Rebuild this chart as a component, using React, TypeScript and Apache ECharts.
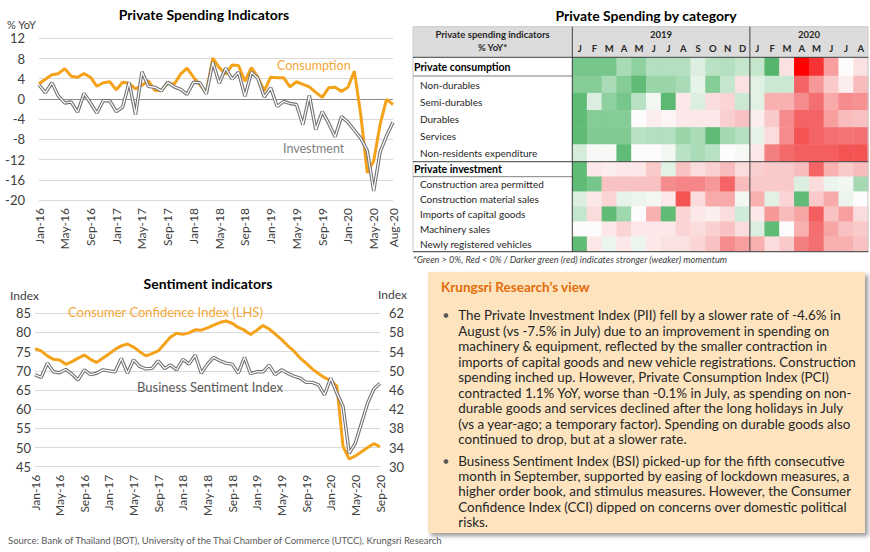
import React, { useEffect, useRef } from "react";
import * as echarts from "echarts";

// ---------- DATA ----------
const MONTHS = [
  "Jan-16","Feb-16","Mar-16","Apr-16","May-16","Jun-16","Jul-16","Aug-16","Sep-16","Oct-16","Nov-16","Dec-16",
  "Jan-17","Feb-17","Mar-17","Apr-17","May-17","Jun-17","Jul-17","Aug-17","Sep-17","Oct-17","Nov-17","Dec-17",
  "Jan-18","Feb-18","Mar-18","Apr-18","May-18","Jun-18","Jul-18","Aug-18","Sep-18","Oct-18","Nov-18","Dec-18",
  "Jan-19","Feb-19","Mar-19","Apr-19","May-19","Jun-19","Jul-19","Aug-19","Sep-19","Oct-19","Nov-19","Dec-19",
  "Jan-20","Feb-20","Mar-20","Apr-20","May-20","Jun-20","Jul-20","Aug-20","Sep-20",
];
const spendMonths = MONTHS.slice(0, 56);

const consumption = [
  3.0, 3.9, 4.8, 5.0, 6.0, 4.5, 4.3, 5.0, 4.3, 2.5, 3.2, 3.4,
  1.8, 3.3, 3.1, 2.0, 2.7, 3.6, 1.7, 1.6, 3.2, 2.9, 4.9, 6.1,
  4.3, 2.8, 1.2, 8.1, 6.2, 4.9, 6.7, 6.6, 3.5, 6.2, 4.3, 1.6,
  4.3, 4.2, 4.2, 2.4, 3.4, 2.9, 2.4, 1.3, 0.3, 2.2, 2.3, 1.5,
  2.3, 5.5, -3.2, -14.6, -12.3, -5.0, -0.1, -1.1,
];
const investment = [
  2.8, 1.2, 3.2, 0.6, -0.8, -0.6, -2.6, 1.1, -0.8, -2.8, -0.3, -0.4,
  -2.5, -1.6, 3.3, -3.1, 5.4, 2.5, 2.3, 1.6, 3.3, 2.4, 1.9, 0.9,
  3.3, 3.2, 1.0, 7.3, 3.1, 6.1, 3.9, 5.3, 0.5, 5.3, 4.1, 0.4,
  2.2, -1.5, -0.5, -0.9, -1.1, -5.1, 0.7, -6.1, -2.5, -4.8, -7.5, -3.5,
  -4.6, -6.2, -7.8, -10.2, -18.2, -10.5, -7.3, -4.6,
];

const cci = [
  75.8, 75.2, 73.9, 73.0, 72.8, 71.7, 72.4, 73.3, 74.1, 73.0, 72.2, 73.3,
  74.4, 75.6, 76.5, 77.0, 76.2, 75.0, 73.9, 74.5, 75.2, 77.0, 78.8, 79.8,
  79.5, 79.9, 80.7, 80.6, 81.2, 81.9, 82.6, 83.0, 82.4, 81.3, 80.6, 79.5,
  80.6, 81.8, 80.9, 79.6, 78.2, 76.6, 75.2, 73.4, 72.0, 70.5, 69.3, 68.2,
  67.5, 66.0, 50.3, 47.0, 47.8, 48.9, 50.0, 51.0, 50.2,
];
const bsi = [
  49.2, 48.6, 51.6, 49.8, 49.6, 50.3, 49.3, 48.1, 50.2, 49.2, 49.5, 50.2,
  50.0, 49.8, 52.6, 49.5, 52.3, 50.9, 50.4, 50.5, 52.1, 50.5, 51.2, 50.2,
  52.4, 51.4, 53.3, 49.5, 51.4, 52.8, 52.1, 51.6, 51.4, 49.5, 52.8, 49.4,
  49.8, 49.8, 51.2, 49.2, 50.2, 49.5, 48.9, 48.5, 47.6, 47.6, 47.1, 45.0,
  48.5, 45.3, 42.6, 32.8, 34.9, 39.1, 43.3, 46.2, 47.4,
];

const heatColumns = [
  "Jan-19","Feb-19","Mar-19","Apr-19","May-19","Jun-19","Jul-19","Aug-19","Sep-19","Oct-19","Nov-19","Dec-19",
  "Jan-20","Feb-20","Mar-20","Apr-20","May-20","Jun-20","Jul-20","Aug-20",
];
const heatYears = ["2019", "2020"];
const heatYearCols = [12, 8];

const rowsPC = ["Private consumption"];
const rowsCons = ["Non-durables", "Semi-durables", "Durables", "Services", "Non-residents expenditure"];
const rowsInv = [
  "Private investment", "Construction area permitted", "Construction material sales",
  "Imports of capital goods", "Machinery sales", "Newly registered vehicles",
];

// momentum score: >0 green, <0 red, magnitude = strength
const scorePC = [2.5, 2.5, 2.5, 1.5, 2.0, 1.3, 1.3, 1.3, 0.6, 1.2, 1.3, 1.0, 1.0, 3.5, -0.4, -4.0, -3.3, -1.5, 0.0, -0.4];
const scoreND = [2.2, 2.2, 1.5, 2.2, 3.0, 1.8, 1.8, 1.5, 0.4, 2.2, 1.0, -0.4, 0.5, 0.9, 0.9, -2.5, -1.6, -0.8, -0.2, -1.0];
const scoreSD = [3.0, 0.6, 2.0, 2.5, 1.2, 0.2, 3.2, -0.3, 0.6, -0.5, -0.6, 0.9, 0.5, -1.2, -1.2, -1.8, -2.3, -1.3, -1.8, -1.7];
const scoreDU = [3.0, 2.2, 2.2, 2.2, 0.0, -0.2, -0.1, -0.3, -0.3, -0.3, -0.7, -0.9, -0.2, -0.8, -1.8, -2.5, -2.5, -1.5, -1.0, -0.9];
const scoreSV = [3.0, 2.3, 2.3, 2.3, 1.2, 1.3, 1.3, 1.8, 1.5, 3.0, 1.6, 1.3, 0.4, -0.5, -1.8, -2.8, -2.5, -2.3, -2.2, -2.3];
const scoreNR = [0.7, 0.1, 0.1, 3.0, 0.0, 0.0, 0.2, 1.2, 1.5, 1.2, 0.0, 0.1, -0.3, -2.0, -2.4, -2.6, -2.6, -2.6, -2.8, -2.8];
const scorePI = [3.0, -0.3, -0.2, -0.3, -0.3, -0.8, 0.5, -0.9, -0.5, -0.7, -1.0, -0.5, -0.7, -0.8, -0.8, -1.0, -2.5, -1.2, -0.8, -1.0];
const scoreCA = [3.0, 2.5, -0.9, -0.9, -0.9, -0.9, -1.8, -1.9, -1.9, -1.6, -2.5, -1.0, -0.8, -0.8, -0.8, 0.6, -0.5, 0.3, 0.2, 1.6];
const scoreCM = [0.6, -0.3, -0.6, 0.4, 0.3, 0.2, -0.3, -2.8, -0.5, -1.3, -1.3, 0.2, -1.2, 0.5, -0.6, 3.0, -0.8, -1.3, 0.3, 0.0];
const scoreIC = [1.0, -0.5, 3.0, 1.7, 0.0, -1.2, 3.0, -0.6, -0.3, -0.2, -0.5, 0.8, -0.3, -1.6, -1.0, -1.4, -2.6, -0.9, -1.5, -0.5];
const scoreMS = [0.0, 0.0, -0.3, -0.6, -0.3, -0.3, -0.3, -0.6, -0.5, -0.7, -0.9, -0.5, 0.6, 3.0, 0.0, -1.2, -2.3, -1.4, -0.9, -0.8];
const scoreNV = [3.0, -0.3, 0.3, -0.3, 0.3, -0.3, -0.4, -0.4, -0.6, -0.9, -1.8, -1.5, -1.2, -0.5, -0.8, -2.0, -2.3, -1.2, -1.2, -0.9];

const viewBullet1 = [
  "The Private Investment Index (PII) fell by a slower rate of -4.6% in",
  "August (vs -7.5% in July) due to an improvement in spending on",
  "machinery & equipment, reflected by the smaller contraction in",
  "imports of capital goods and new vehicle registrations. Construction",
  "spending inched up. However, Private Consumption Index (PCI)",
  "contracted 1.1% YoY, worse than -0.1% in July, as spending on non-",
  "durable goods and services declined after the long holidays in July",
  "(vs a year-ago; a temporary factor). Spending on durable goods also",
  "continued to drop, but at a slower rate.",
];
const viewBullet2 = [
  "Business Sentiment Index (BSI) picked-up for the fifth consecutive",
  "month in September, supported by easing of lockdown measures, a",
  "higher order book, and stimulus measures. However, the Consumer",
  "Confidence Index (CCI) dipped on concerns over domestic political",
  "risks.",
];

// ---------- LAYOUT ----------
const FONT = "Lato";
const ORANGE = "#f5a21b";
const HX = 572.3;
const HW = 296;
const CELL = HW / 20;
const BODY_X = 458.3;
const BODY_W = 392;

const heat = (rows: number[][]) => rows.flatMap((r, y) => r.map((v, x) => [x, y, v]));

function fitBodySize(): number {
  try {
    const ctx = document.createElement("canvas").getContext("2d");
    if (!ctx) return 13;
    ctx.font = `10px ${FONT}`;
    const lines = [...viewBullet1.slice(0, -1), ...viewBullet2.slice(0, -1)];
    const widths = lines.map((l) => ctx.measureText(l).width).sort((a, b) => b - a);
    const ref = widths[Math.floor(widths.length / 3)];
    const s = (10 * BODY_W) / ref;
    return Math.max(11, Math.min(14.5, s));
  } catch (e) {
    return 13;
  }
}

const txt = (text: string, x: number, y: number, o: any = {}) => ({
  type: "text",
  x,
  y,
  z: 100,
  style: {
    text,
    fill: o.fill || "#262626",
    fontSize: o.size || 12,
    fontWeight: o.bold ? "bold" : "normal",
    fontStyle: o.italic ? "italic" : "normal",
    fontFamily: FONT,
    align: o.align || "left",
    verticalAlign: "middle",
    textAlign: o.align || "left",
    textVerticalAlign: "middle",
  },
});
const hline = (x1: number, x2: number, y: number, c = "#404040") => ({
  type: "line", z: 100, shape: { x1, y1: y, x2, y2: y }, style: { stroke: c, lineWidth: 1 },
});
const vline = (x: number, y1: number, y2: number, c = "#404040") => ({
  type: "line", z: 100, shape: { x1: x, y1, x2: x, y2 }, style: { stroke: c, lineWidth: 1 },
});

const gridGray = "#d9d9d9";
const labelColor = "#404040";

function buildOption(): any {
  const bodySize = fitBodySize();
  const graphics: any[] = [];
  // titles
  graphics.push(txt("Private Spending Indicators", 204, 14, { bold: true, size: 14, align: "center", fill: "#000" }));
  graphics.push(txt("% YoY", 7, 24, { size: 11, fill: labelColor }));
  graphics.push(txt("Consumption", 277, 65, { size: 12.5, fill: "#f3a838" }));
  graphics.push(txt("Investment", 283, 148, { size: 12.5, fill: "#7f7f7f" }));
  graphics.push(txt("Private Spending by category", 646, 15, { bold: true, size: 14, align: "center", fill: "#000" }));
  graphics.push(txt("Sentiment indicators", 208, 283, { bold: true, size: 14, align: "center", fill: "#000" }));
  graphics.push(txt("Index", 10, 295, { size: 12, fill: labelColor }));
  graphics.push(txt("Index", 378, 294, { size: 12, fill: labelColor }));
  graphics.push(txt("Consumer Confidence Index (LHS)", 68, 312, { size: 13, fill: "#f3a838" }));
  graphics.push(txt("Business Sentiment Index", 137, 387, { size: 13, fill: "#595959" }));
  graphics.push(
    txt("Source: Bank of Thailand (BOT), University of the Thai Chamber of Commerce (UTCC), Krungsri Research", 8, 540, {
      size: 9.5, fill: "#595959",
    })
  );

  // table header
  graphics.push({ type: "rect", z: -10, shape: { x: 413, y: 26.7, width: 455, height: 30.6 }, style: { fill: "#dcdcdc" } });
  graphics.push({ type: "rect", z: 99, shape: { x: 413, y: 26.7, width: 455, height: 225 }, style: { fill: "none", stroke: "#c8c8c8", lineWidth: 1 } });
  graphics.push(txt("Private spending indicators", 492.6, 34.3, { bold: true, size: 9.5, align: "center" }));
  graphics.push(txt("% YoY*", 492.6, 47.3, { bold: true, size: 9.5, align: "center" }));
  let c0 = 0;
  heatYears.forEach((yr, i) => {
    const n = heatYearCols[i];
    graphics.push(txt(yr, HX + (c0 + n / 2) * CELL, 34.3, { bold: true, size: 9.5, align: "center" }));
    c0 += n;
  });
  graphics.push(hline(413, 868.3, 57.3));
  graphics.push(hline(413, HX, 76, "#7f7f7f"));
  graphics.push(hline(413, 868.3, 161.7));
  graphics.push(hline(413, HX, 176.7, "#7f7f7f"));
  graphics.push(hline(413, 868.3, 251.7));
  graphics.push(vline(HX, 26.7, 251.7));
  graphics.push(vline(HX + 12 * CELL, 26.7, 251.7));
  graphics.push(
    txt("*Green > 0%, Red < 0% / Darker green (red) indicates stronger (weaker) momentum", 413, 259, {
      italic: true, size: 9.2, fill: labelColor,
    })
  );

  // view box
  graphics.push({
    type: "rect", z: -5,
    shape: { x: 428, y: 272, width: 437, height: 261 },
    style: { fill: "#fde4bf", shadowBlur: 4, shadowOffsetX: 3, shadowOffsetY: 3, shadowColor: "rgba(0,0,0,0.4)" },
  });
  graphics.push(txt("Krungsri Research\u2019s view", 441, 287, { bold: true, size: 13.5, fill: "#e46c0a" }));
  graphics.push({ type: "circle", z: 100, shape: { cx: 446, cy: 315.5, r: 2.4 }, style: { fill: "#595959" } });
  graphics.push({ type: "circle", z: 100, shape: { cx: 446, cy: 461.5, r: 2.4 }, style: { fill: "#595959" } });
  viewBullet1.forEach((l, i) => graphics.push(txt(l, BODY_X, 315 + i * 15.5, { size: bodySize })));
  viewBullet2.forEach((l, i) => graphics.push(txt(l, BODY_X, 461 + i * 15.2, { size: bodySize })));

  const rotLabel = {
    rotate: 90, fontSize: 12, color: labelColor, fontFamily: FONT, margin: 8,
  };

  return {
    animation: false,
    backgroundColor: "#fff",
    textStyle: { fontFamily: FONT },
    grid: [
      { left: 39, top: 38.3, width: 354, height: 161.7 },
      { left: 35, top: 313.3, width: 345, height: 153.4 },
      { left: HX, top: 57.3, width: HW, height: 18.7 },
      { left: HX, top: 76, width: HW, height: 85.7 },
      { left: HX, top: 161.7, width: HW, height: 90 },
    ],
    xAxis: [
      {
        type: "category", gridIndex: 0, data: spendMonths, boundaryGap: false,
        axisLine: { show: false }, axisTick: { show: false },
        axisLabel: { ...rotLabel, interval: (i: number) => i % 4 === 0 || i === spendMonths.length - 1 },
      },
      {
        type: "category", gridIndex: 1, data: MONTHS, boundaryGap: false,
        axisLine: { show: false }, axisTick: { show: false },
        axisLabel: { ...rotLabel, interval: 3 },
      },
      {
        type: "category", gridIndex: 2, data: heatColumns, position: "top",
        axisLine: { show: false }, axisTick: { show: false },
        axisLabel: {
          interval: 0, margin: 4, fontSize: 9.5, fontWeight: "bold", color: "#262626", fontFamily: FONT,
          formatter: (v: string) => v.charAt(0),
        },
      },
      { type: "category", gridIndex: 3, data: heatColumns, show: false },
      { type: "category", gridIndex: 4, data: heatColumns, show: false },
    ],
    yAxis: [
      {
        type: "value", gridIndex: 0, min: -20, max: 12, interval: 4,
        axisLine: { show: false }, axisTick: { show: false },
        axisLabel: { fontSize: 13, color: labelColor, margin: 14, fontFamily: FONT },
        splitLine: {
          lineStyle: {
            color: [gridGray, gridGray, gridGray, gridGray, gridGray, "#8c8c8c", gridGray, gridGray, gridGray],
            width: 1,
          },
        },
      },
      {
        type: "value", gridIndex: 1, min: 45, max: 85, interval: 5,
        axisLine: { show: false }, axisTick: { show: false },
        axisLabel: { fontSize: 13, color: labelColor, margin: 4, fontFamily: FONT },
        splitLine: { lineStyle: { color: gridGray, width: 1 } },
      },
      {
        type: "value", gridIndex: 1, position: "right", min: 30, max: 62, interval: 4,
        axisLine: { show: false }, axisTick: { show: false },
        axisLabel: { fontSize: 13, color: labelColor, margin: 9, fontFamily: FONT },
        splitLine: { show: false },
      },
      {
        type: "category", gridIndex: 2, data: rowsPC, inverse: true,
        axisLine: { show: false }, axisTick: { show: false },
        axisLabel: { align: "left", margin: HX - 414, fontSize: 10.5, fontWeight: "bold", color: "#000", fontFamily: FONT },
      },
      {
        type: "category", gridIndex: 3, data: rowsCons, inverse: true,
        axisLine: { show: false }, axisTick: { show: false },
        axisLabel: { align: "left", margin: HX - 420, fontSize: 10, color: "#262626", fontFamily: FONT },
      },
      {
        type: "category", gridIndex: 4, data: rowsInv, inverse: true,
        axisLine: { show: false }, axisTick: { show: false },
        axisLabel: {
          align: "left", margin: HX - 414, fontSize: 10, color: "#262626", fontFamily: FONT,
          formatter: (v: string, i: number) => (i === 0 ? `{b|${v}}` : `{n|${v}}`),
          rich: {
            b: { fontWeight: "bold", color: "#000", fontSize: 10.5, fontFamily: FONT },
            n: { color: "#262626", fontSize: 10, fontFamily: FONT, padding: [0, 0, 0, 6] },
          },
        },
      },
    ],
    visualMap: {
      type: "continuous", show: false, seriesIndex: [6, 7, 8], dimension: 2, min: -4, max: 4,
      inRange: {
        color: ["#ff0000", "#f44848", "#f47f80", "#f9bcbc", "#fdfbfb", "#c4e6cd", "#8fd0a0", "#5fbb75", "#4caf63"],
      },
    },
    series: [
      {
        name: "Consumption", type: "line", xAxisIndex: 0, yAxisIndex: 0, data: consumption,
        symbol: "none", lineStyle: { color: ORANGE, width: 3 }, z: 2,
      },
      {
        name: "Investment", type: "line", xAxisIndex: 0, yAxisIndex: 0, data: investment,
        symbol: "none", lineStyle: { color: "#737373", width: 3.4 }, z: 3,
      },
      {
        name: "Investment-inner", type: "line", xAxisIndex: 0, yAxisIndex: 0, data: investment,
        symbol: "none", lineStyle: { color: "#ffffff", width: 1.2 }, z: 4,
      },
      {
        name: "Consumer Confidence Index", type: "line", xAxisIndex: 1, yAxisIndex: 1, data: cci,
        symbol: "none", lineStyle: { color: ORANGE, width: 3 }, z: 2,
      },
      {
        name: "Business Sentiment Index", type: "line", xAxisIndex: 1, yAxisIndex: 2, data: bsi,
        symbol: "none", lineStyle: { color: "#737373", width: 3.4 }, z: 3,
      },
      {
        name: "BSI-inner", type: "line", xAxisIndex: 1, yAxisIndex: 2, data: bsi,
        symbol: "none", lineStyle: { color: "#ffffff", width: 1.2 }, z: 4,
      },
      {
        name: "heatPC", type: "heatmap", xAxisIndex: 2, yAxisIndex: 3, data: heat([scorePC]),
        itemStyle: { borderWidth: 0 }, emphasis: { disabled: true },
      },
      {
        name: "heatCons", type: "heatmap", xAxisIndex: 3, yAxisIndex: 4,
        data: heat([scoreND, scoreSD, scoreDU, scoreSV, scoreNR]),
        itemStyle: { borderWidth: 0 }, emphasis: { disabled: true },
      },
      {
        name: "heatInv", type: "heatmap", xAxisIndex: 4, yAxisIndex: 5,
        data: heat([scorePI, scoreCA, scoreCM, scoreIC, scoreMS, scoreNV]),
        itemStyle: { borderWidth: 0 }, emphasis: { disabled: true },
      },
    ],
    graphic: { elements: graphics },
  };
}

export default function App() {
  const ref = useRef<HTMLDivElement>(null);
  useEffect(() => {
    if (!ref.current) return;
    const chart = echarts.init(ref.current, null, { renderer: "svg" });
    chart.setOption(buildOption());
    return () => chart.dispose();
  }, []);
  return (
    <div
      ref={ref}
      style={{ position: "fixed", left: 0, top: 0, width: 870, height: 552, background: "#fff" }}
    />
  );
}
